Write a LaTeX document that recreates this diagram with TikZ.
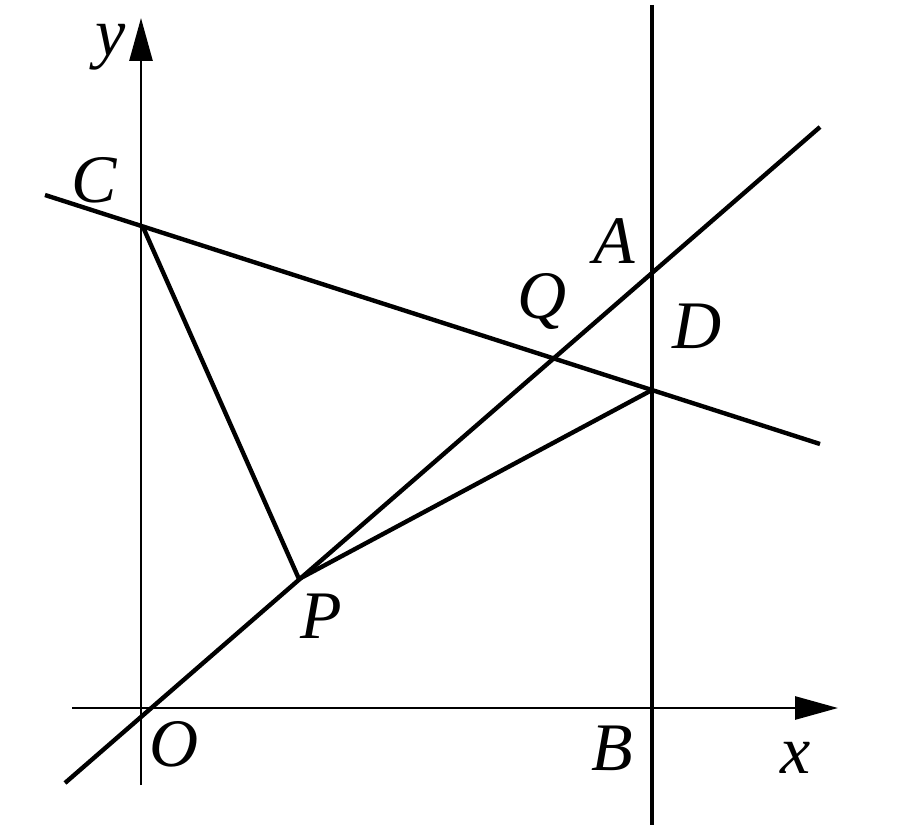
\documentclass[tikz,border=0pt]{standalone}
\usepackage{fontspec}
\setmainfont{Liberation Serif}
\usetikzlibrary{arrows.meta}
\begin{document}
\begin{tikzpicture}[x=1pt,y=-1pt,
  axis/.style={line width=2.8pt,-{Triangle[length=43pt,width=23pt]}},
  geo/.style={line width=4.4pt},
  lbl/.style={anchor=base,inner sep=0pt,font=\itshape\fontsize{68}{68}\selectfont}]
\useasboundingbox[fill=white] (0,0) rectangle (907,840);
% points
\coordinate (O) at (143,711);
\coordinate (xl) at (72,708);
\coordinate (xr) at (838,708);
\coordinate (yb) at (141,785);
\coordinate (yt) at (141,18);
\coordinate (vt) at (652,5);
\coordinate (vb) at (652,825);
\coordinate (A) at (652,268);
\coordinate (D) at (652,390);
\coordinate (C) at (143,227);
\coordinate (P) at (299,579);
\coordinate (Q) at (551,359);
\coordinate (L1) at (65,783);
\coordinate (L2) at (820,127);
\coordinate (M1) at (45,195);
\coordinate (M2) at (820,444);
% axes
\draw[axis] (xl) -- (xr);
\draw[axis] (yb) -- (yt);
% lines
\draw[geo] (vt) -- (vb);
\draw[geo] (L1) -- (L2);
\draw[geo] (M1) -- (M2);
\draw[geo,line join=round] (C) -- (P) -- (D);
% labels
\node[lbl] (ly) at (111,56) {y};
\node[lbl] (lC) at (94,202) {C};
\node[lbl] (lA) at (614,263) {A};
\node[lbl] (lQ) at (542,318) {Q};
\node[lbl] (lD) at (697,348) {D};
\node[lbl] (lP) at (321,638) {P};
\node[lbl] (lO) at (174,766) {O};
\node[lbl] (lB) at (612,770) {B};
\node[lbl] (lx) at (796,773) {x};
\end{tikzpicture}
\end{document}
